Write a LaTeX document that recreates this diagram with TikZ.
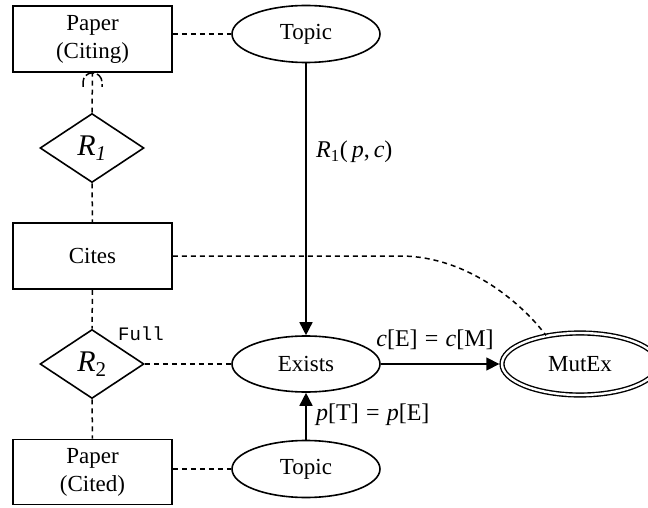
\documentclass[tikz,border=0pt]{standalone}
\usepackage{fontspec}
\setmainfont{Liberation Serif}
\newfontfamily\monofam{Liberation Mono}
\usetikzlibrary{shapes.geometric,arrows.meta,calc}
\begin{document}
\begin{tikzpicture}[x=1pt,y=1pt,
  every node/.style={font=\fontsize{23}{28}\selectfont},
  entity/.style={draw,line width=1.6pt,rectangle,minimum width=159pt,minimum height=66pt,inner sep=0pt,align=center},
  attr/.style={draw,line width=1.6pt,ellipse,minimum width=148pt,minimum height=57pt,inner sep=0pt},
  rel/.style={draw,line width=1.6pt,diamond,minimum width=104pt,minimum height=69pt,inner sep=0pt,font=\fontsize{30}{32}\selectfont\itshape},
  link/.style={line width=1.5pt,dash pattern=on 5pt off 4pt},
  dep/.style={line width=1.6pt,-{Triangle[length=13pt,width=13pt]}},
  lbl/.style={inner sep=0pt,font=\fontsize{24}{28}\selectfont}
]
\useasboundingbox (0,0) rectangle (648,507);

% entities and relationships (left column)
\node[entity] (pc) at (92.5,468) {Paper\\(Citing)};
\node[rel] (r1) at (92,359) {R\textsubscript{\itshape 1}};
\node[entity] (cites) at (92.5,251) {Cites};
\node[rel] (r2) at (92,143) {R\textsubscript{\upshape 2}};
\node[entity,minimum height=65pt] (pcd) at (92.5,35) {Paper\\(Cited)};

% attributes (right part)
\node[attr] (t1) at (306,473) {Topic};
\node[attr,minimum height=56pt] (ex) at (306,143) {Exists};
\node[attr] (t2) at (306,38) {Topic};
\node[draw,ellipse,line width=1.4pt,double,double distance=2.4pt,minimum width=156pt,minimum height=62pt,inner sep=0pt] (mx) at (580,143) {MutEx};

% dashed ER links
\draw[link] (t1.west -| pc.east) -- (t1.west);
\draw[link] (r1.north) -- (pc.south);
\draw[line width=1.5pt,dash pattern=on 9pt off 3pt] ($(pc.south)+(-9.5,-14)$) -- ++(0,4.5) arc[start angle=180,end angle=0,radius=9.5] -- ++(0,-4.5);
\draw[link] (r1.south) -- (cites.north);
\draw[link] (cites.south) -- (r2.north);
\draw[link] (r2.south) -- (pcd.north);
\draw[link] (r2.east) -- (ex.west);
\draw[link] (t2.west -| pcd.east) -- (t2.west);
\coordinate (bend) at (400,251);
\draw[link] (cites.east) -- (bend) .. controls (470,251) and (525,200) .. (mx.140);

% dependency arrows
\draw[dep] (t1.south) -- (ex.north);
\draw[dep] (t2.north) -- (ex.south);
\draw[dep,shorten >=2pt] (ex.east) -- (mx.west);

% labels
\node[lbl,font=\monofam\fontsize{19}{21}\selectfont] (full) at (141,173) {Full};
\node[lbl,anchor=west] (l1) at (316,355) {\textit{R}\textsubscript{1}(\,\textit{p},\,\textit{c})};
\node[lbl] (l2) at (435,167) {\textit{c}[E]\hspace{0.3em}=\hspace{0.3em}\textit{c}[M]};
\node[lbl,anchor=west] (l3) at (316,92) {\textit{p}[T]\hspace{0.3em}=\hspace{0.3em}\textit{p}[E]};
\end{tikzpicture}
\end{document}
